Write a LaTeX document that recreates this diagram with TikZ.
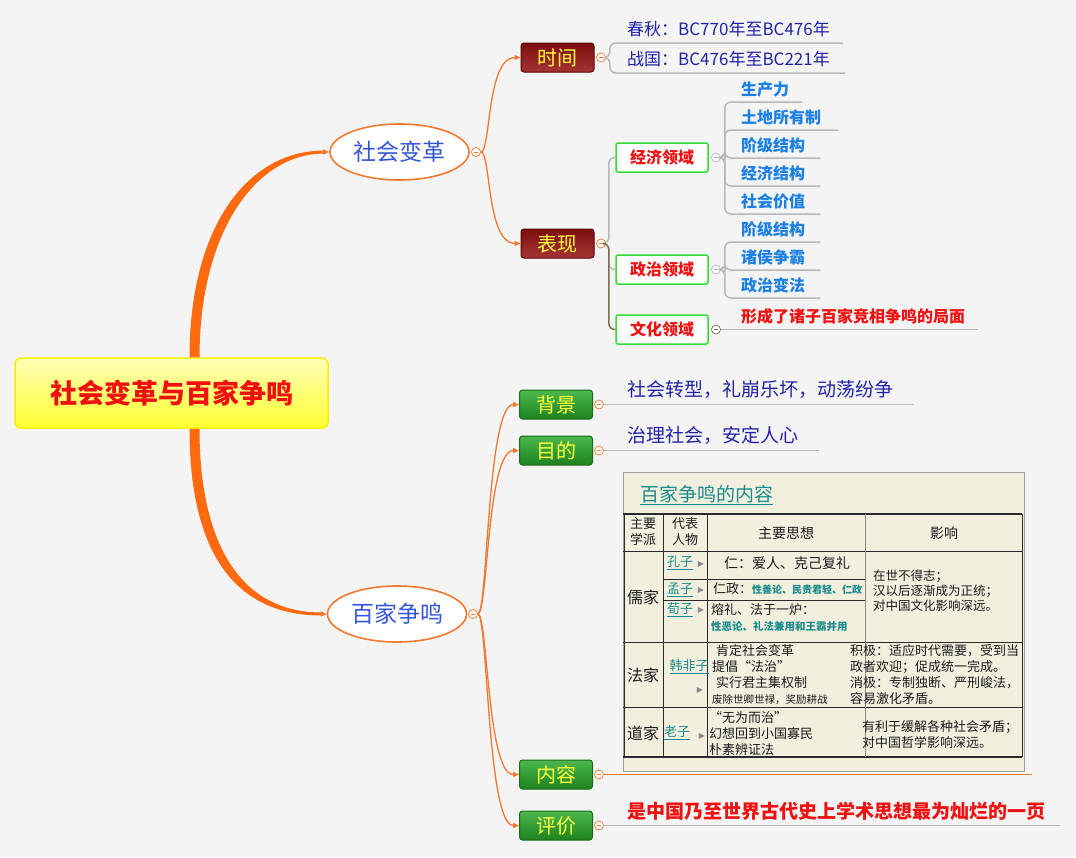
\documentclass[tikz,border=0pt]{standalone}
\usepackage{fontspec}
\setmainfont{Noto Sans CJK SC}
\newfontfamily\symfont{DejaVu Sans}
\usetikzlibrary{shapes.geometric,arrows.meta}

\definecolor{bgGray}{HTML}{F4F4F4}
\definecolor{branchOrange}{HTML}{FF6A10}
\definecolor{twigOrange}{HTML}{F07830}
\definecolor{ellBlue}{HTML}{3355D8}
\definecolor{leafBlue}{HTML}{2222A8}
\definecolor{itemBlue}{HTML}{1A80E6}
\definecolor{hotRed}{HTML}{F01010}
\definecolor{lineGray}{HTML}{B8B8B8}
\definecolor{oliveLine}{HTML}{7A7050}
\definecolor{boxGreen}{HTML}{33DD33}
\definecolor{boxYellow}{HTML}{FFFF40}
\definecolor{rootTop}{HTML}{FFFFB8}
\definecolor{rootBot}{HTML}{FFFF30}
\definecolor{rootEdge}{HTML}{F2F200}
\definecolor{redTop}{HTML}{7D0D0D}
\definecolor{redBot}{HTML}{A63434}
\definecolor{redEdge}{HTML}{5A0000}
\definecolor{greenTop}{HTML}{4DB84D}
\definecolor{greenBot}{HTML}{1E821E}
\definecolor{greenEdge}{HTML}{1A6A1A}
\definecolor{tealText}{HTML}{1A8C8C}
\definecolor{paper}{HTML}{F3EFDF}
\definecolor{frameGray}{HTML}{A0A0A0}
\definecolor{cellInk}{HTML}{1A1A1A}
\definecolor{gridInk}{HTML}{2A2A2A}
\definecolor{triGray}{HTML}{8A8A8A}

\tikzset{
  rootbox/.style={rounded corners=6pt, draw=rootEdge, line width=1.5pt,
    top color=rootTop, bottom color=rootBot, minimum width=313pt,
    minimum height=70pt, text=hotRed,
    font=\fontsize{27}{30}\selectfont\bfseries},
  topic/.style={ellipse, draw=twigOrange, line width=1.6pt, fill=white,
    minimum width=139pt, minimum height=56pt, inner sep=0pt, text=ellBlue,
    font=\fontsize{23}{26}\selectfont},
  redbox/.style={rounded corners=3pt, draw=redEdge, line width=1pt,
    top color=redTop, bottom color=redBot, minimum width=73pt,
    minimum height=29pt, inner sep=0pt, text=boxYellow,
    font=\fontsize{20}{22}\selectfont},
  greenbox/.style={redbox, draw=greenEdge, top color=greenTop,
    bottom color=greenBot},
  fieldbox/.style={rounded corners=2pt, draw=boxGreen, line width=1.5pt,
    fill=white, minimum width=92pt, minimum height=29pt, inner sep=0pt,
    text=hotRed, font=\fontsize{16}{18}\selectfont\bfseries},
  fold/.style={circle, draw=#1, fill=white, line width=0.7pt,
    minimum size=9pt, inner sep=0pt,
    path picture={\draw[#1, line width=0.7pt]
      ([xshift=-2.3pt]path picture bounding box.center) --
      ([xshift=2.3pt]path picture bounding box.center);}},
  fold/.default=twigOrange,
  twig/.style={draw=twigOrange, line width=1.3pt,
    -{Triangle[length=6pt,width=5pt]}},
  twigline/.style={draw=twigOrange, line width=1.8pt},
  leafline/.style={draw=lineGray, line width=1.5pt, rounded corners=6pt},
  leaf/.style={anchor=south west, inner xsep=3pt, inner ysep=6pt,
    text=leafBlue, font=\fontsize{17}{20}\selectfont},
  item/.style={anchor=south west, inner xsep=3pt, inner ysep=5pt,
    text=itemBlue, font=\fontsize{16}{18}\selectfont\bfseries},
  cell/.style={inner sep=0pt, text=cellInk, font=\fontsize{13}{16}\selectfont},
  sage/.style={cell, text=tealText},
  tri/.style={inner sep=0pt, text=triGray, font={\symfont\fontsize{8}{9}\selectfont}},
  gridline/.style={draw=gridInk, line width=0.9pt},
}

\begin{document}
\begin{tikzpicture}[x=1pt,y=-1pt]
  \fill[bgGray] (0,0) rectangle (1076,857);
  \useasboundingbox (0,0) rectangle (1076,857);

  % centre and two main topics
  \node[rootbox] (root) at (171.5,393) {社会变革与百家争鸣};
  \node[topic] (biange) at (399.5,152) {社会变革};
  \node[topic] (baijia) at (397,614) {百家争鸣};
  \node[fold] (fBiange) at (476,152) {};
  \node[fold] (fBaijia) at (473,614) {};

  \fill[branchOrange] ([xshift=18pt]root.north)
    .. controls ([xshift=18pt,yshift=130pt]root.north) and ([xshift=-82pt,yshift=1.5pt]biange.west)
    .. ([xshift=-5pt,yshift=1.5pt]biange.west)
    -- ([xshift=-5pt,yshift=-1.5pt]biange.west)
    .. controls ([xshift=-74pt,yshift=-1.5pt]biange.west) and ([xshift=28pt,yshift=124pt]root.north)
    .. ([xshift=28pt]root.north) -- cycle;
  \fill[branchOrange] ([xshift=18pt]root.south)
    .. controls ([xshift=18pt,yshift=-118pt]root.south) and ([xshift=-96pt,yshift=-1.5pt]baijia.west)
    .. ([xshift=-5pt,yshift=-1.5pt]baijia.west)
    -- ([xshift=-5pt,yshift=1.5pt]baijia.west)
    .. controls ([xshift=-88pt,yshift=1.5pt]baijia.west) and ([xshift=28pt,yshift=-112pt]root.south)
    .. ([xshift=28pt]root.south) -- cycle;
  \draw[twig] ([xshift=-8pt]biange.west) -- (biange.west);
  \draw[twig] ([xshift=-8pt]baijia.west) -- (baijia.west);

  % 社会变革
  \node[redbox] (shijian) at (557.5,57.5) {时间};
  \node[redbox] (biaoxian) at (557.5,243.5) {表现};
  \node[fold] (fShijian) at (601,57.5) {};
  \node[fold] (fBiaoxian) at (601,243.5) {};
  \draw[twig] (fBiange.east) .. controls +(10,0) and +(-34,0) .. (shijian.west);
  \draw[twig] (fBiange.east) .. controls +(10,0) and +(-34,0) .. (biaoxian.west);

  \node[leaf] (chunqiu) at (624,43) {春秋：BC770年至BC476年};
  \node[leaf] (zhanguo) at (624,73) {战国：BC476年至BC221年};
  \draw[leafline] (fShijian.east) -- ++(4,0) |- ([xshift=10pt]chunqiu.south east);
  \draw[leafline] (fShijian.east) -- ++(4,0) |- ([xshift=12pt]zhanguo.south east);

  \node[fieldbox] (jingji) at (662,157.5) {经济领域};
  \node[fieldbox] (zhengzhi) at (662,269.5) {政治领域};
  \node[fieldbox] (wenhua) at (662,329.5) {文化领域};
  \draw[leafline] (fBiaoxian.east) -- ++(3,0) |- (jingji.west);
  \draw[leafline] (fBiaoxian.east) -- ++(3,0) |- (zhengzhi.west);
  \draw[leafline, draw=oliveLine] (fBiaoxian.east) -- ++(3,0) |- (wenhua.west);
  \node[fold=lineGray] (fJingji) at (716,157.5) {};
  \node[fold=lineGray] (fZhengzhi) at (716,269.5) {};
  \node[fold=oliveLine] (fWenhua) at (716,329.5) {};

  \node[item] (shengchanli) at (738,102) {生产力};
  \node[item] (tudi) at (738,130) {土地所有制};
  \node[item] (jieji) at (738,158) {阶级结构};
  \node[item] (jiegou) at (738,186) {经济结构};
  \node[item] (jiazhi) at (738,214) {社会价值};
  \draw[leafline] (fJingji.east) -- ++(4,0) |- ([xshift=10pt]shengchanli.south east);
  \draw[leafline] (fJingji.east) -- ++(4,0) |- ([xshift=14pt]tudi.south east);
  \draw[leafline] (fJingji.east) -- ++(4,0) |- ([xshift=12pt]jieji.south east);
  \draw[leafline] (fJingji.east) -- ++(4,0) |- ([xshift=12pt]jiegou.south east);
  \draw[leafline] (fJingji.east) -- ++(4,0) |- ([xshift=12pt]jiazhi.south east);

  \node[item] (jieji2) at (738,242) {阶级结构};
  \node[item] (zhengba) at (738,270) {诸侯争霸};
  \node[item] (bianfa) at (738,298) {政治变法};
  \draw[leafline] (fZhengzhi.east) -- ++(4,0) |- ([xshift=12pt]jieji2.south east);
  \draw[leafline] (fZhengzhi.east) -- ++(4,0) |- ([xshift=12pt]zhengba.south east);
  \draw[leafline] (fZhengzhi.east) -- ++(4,0) |- ([xshift=12pt]bianfa.south east);

  \node[item, text=hotRed] (jumian) at (738,329.5) {形成了诸子百家竞相争鸣的局面};
  \draw[leafline] (fWenhua.east) -- ([xshift=10pt]jumian.south east);

  % 百家争鸣
  \node[greenbox] (beijing) at (556,404.5) {背景};
  \node[greenbox] (mudi) at (556,450.5) {目的};
  \node[greenbox] (neirong) at (556,774.5) {内容};
  \node[greenbox] (pingjia) at (556,825.5) {评价};
  \node[fold] (fBeijing) at (599,404.5) {};
  \node[fold] (fMudi) at (599,450.5) {};
  \node[fold] (fNeirong) at (599,774.5) {};
  \node[fold] (fPingjia) at (599,825.5) {};
  \draw[twig] (fBaijia.east) .. controls +(10,0) and +(-32,0) .. (beijing.west);
  \draw[twig] (fBaijia.east) .. controls +(10,0) and +(-32,0) .. (mudi.west);
  \draw[twig] (fBaijia.east) .. controls +(10,0) and +(-32,0) .. (neirong.west);
  \draw[twig] (fBaijia.east) .. controls +(10,0) and +(-32,0) .. (pingjia.west);

  \node[leaf, font=\fontsize{19}{22}\selectfont] (zhuanxing) at (624,404.5) {社会转型，礼崩乐坏，动荡纷争};
  \node[leaf, font=\fontsize{19}{22}\selectfont] (anding) at (624,450.5) {治理社会，安定人心};
  \node[item, text=hotRed, font=\fontsize{19}{22}\selectfont\bfseries] (yiye) at (624,825.5) {是中国乃至世界古代史上学术思想最为灿烂的一页};
  \draw[leafline] (fBeijing.east) -- ([xshift=18pt]zhuanxing.south east);
  \draw[leafline] (fMudi.east) -- ([xshift=18pt]anding.south east);
  \draw[leafline] (fPingjia.east) -- ([xshift=12pt]yiye.south east);

  % table of the schools
  \node[draw=frameGray, fill=paper, line width=0.8pt, minimum width=401pt,
    minimum height=299pt, inner sep=0pt, anchor=north west] (tabel) at (623,472) {};
  \node[sage, anchor=west, font=\fontsize{19}{22}\selectfont] (tabelTitle) at (640,495) {\underline{百家争鸣的内容}};
  \draw[gridline, line width=1.6pt] (623,514) -- (1022,514);
  \draw[gridline] (623,551) -- (1022,551);
  \draw[gridline] (623,642) -- (1022,642);
  \draw[gridline] (623,707) -- (1022,707);
  \draw[gridline, line width=1.6pt] (623,757) -- (1022,757);
  \draw[gridline] (663,579) -- (865,579);
  \draw[gridline] (663,600) -- (865,600);
  \draw[gridline] (624,514) -- (624,757);
  \draw[gridline] (663,514) -- (663,757);
  \draw[gridline] (707,514) -- (707,757);
  \draw[gridline, draw=triGray] (865,514) -- (865,757);
  \draw[gridline] (1022,514) -- (1022,757);

  \node[cell, align=center] (hXuepai) at (643,532) {主要\\学派};
  \node[cell, align=center] (hRenwu) at (685,532) {代表\\人物};
  \node[cell, font=\fontsize{14}{16}\selectfont] (hSixiang) at (786,533) {主要思想};
  \node[cell, font=\fontsize{14}{16}\selectfont] (hYingxiang) at (944,533) {影响};

  \node[cell, font=\fontsize{16}{18}\selectfont] (rujia) at (643,597) {儒家};
  \node[sage] (kongzi) at (680,563) {\underline{孔子}};
  \node[tri] (tKongzi) at (701,564) {▶};
  \node[cell, font=\fontsize{14}{16}\selectfont] (kzIdea) at (787,563) {仁：爱人、克己复礼};
  \node[sage] (mengzi) at (680,590) {\underline{孟子}};
  \node[tri] (tMengzi) at (701,590) {▶};
  \node[cell, anchor=west] (mzIdea) at (713,589) {仁政：{\color{tealText}\bfseries\fontsize{10}{12}\selectfont 性善论、民贵君轻、仁政}};
  \node[sage] (xunzi) at (680,610) {\underline{荀子}};
  \node[tri] (tXunzi) at (701,610) {▶};
  \node[cell, anchor=west] (xzIdea) at (711,610) {熔礼、法于一炉：};
  \node[cell, anchor=west, text=tealText, font=\fontsize{10.5}{12}\selectfont\bfseries] (xzIdea2) at (711,626) {性恶论、礼法兼用和王霸并用};
  \node[cell, anchor=west, align=left, font=\fontsize{12.5}{15}\selectfont] (ruEffect) at (873,591) {在世不得志；\\汉以后逐渐成为正统；\\对中国文化影响深远。};

  \node[cell, font=\fontsize{16}{18}\selectfont] (fajia) at (643,675) {法家};
  \node[sage] (hanfeizi) at (689,667) {\underline{韩非子}};
  \node[tri] (tHanfeizi) at (700,690) {▶};
  \node[cell, anchor=west, align=left] (faIdea) at (712,675) {\hspace*{4pt}肯定社会变革\\提倡“法治”\\\hspace*{4pt}实行君主集权制\\{\fontsize{10.5}{12}\selectfont 废除世卿世禄，奖励耕战}};
  \node[cell, anchor=west, align=left] (faEffect) at (850,675) {积极：适应时代需要，受到当\\政者欢迎；促成统一完成。\\消极：专制独断、严刑峻法，\\容易激化矛盾。};

  \node[cell, font=\fontsize{16}{18}\selectfont] (daojia) at (643,733) {道家};
  \node[sage] (laozi) at (677,733) {\underline{老子}};
  \node[tri] (tLaozi) at (702,736) {▶};
  \node[cell, anchor=west, align=left] (daoIdea) at (709,734) {“无为而治”\\幻想回到小国寡民\\朴素辨证法};
  \node[cell, anchor=west, align=left] (daoEffect) at (862,735) {有利于缓解各种社会矛盾；\\对中国哲学影响深远。};

  \coordinate (neirongEnd) at (1032,774.5);
  \draw[twigline] (fNeirong.east) -- (neirongEnd);
\end{tikzpicture}
\end{document}
